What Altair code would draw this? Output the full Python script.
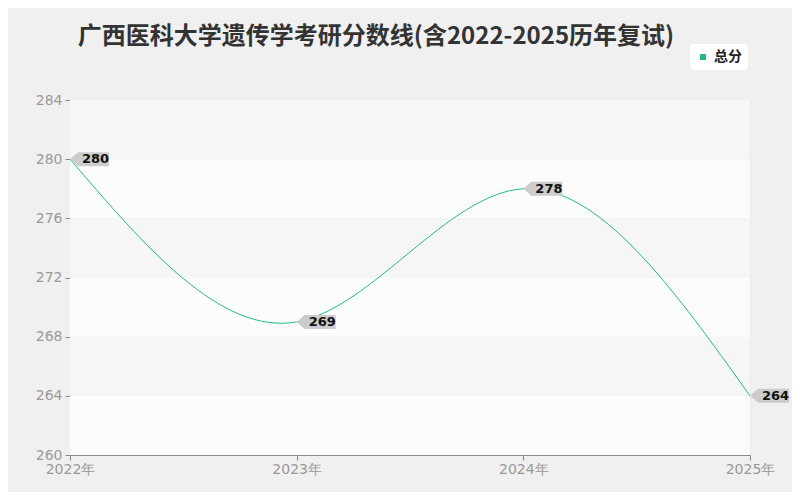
import altair as alt
import pandas as pd

# ---- data ----
years = [2022, 2023, 2024, 2025]
scores = [280, 269, 278, 264]
series_name = "总分"
y_ticks = [260, 264, 268, 272, 276, 280, 284]
x_ticks = [2022, 2023, 2024, 2025]
band_lo = [260, 264, 268, 272, 276, 280]
band_hi = [264, 268, 272, 276, 280, 284]
band_kind = ["light", "hatch", "light", "hatch", "light", "hatch"]
band_x0 = [2022] * 6
band_x1 = [2025] * 6

title_text = "广西医科大学遗传学考研分数线(含2022-2025历年复试)"

df = pd.DataFrame({"year": years, "score": scores, "series": [series_name] * 4})
bands = pd.DataFrame({"lo": band_lo, "hi": band_hi, "kind": band_kind,
                      "x0": band_x0, "x1": band_x1})
title_df = pd.DataFrame({"t": [title_text]})

GREEN = "#22bb88"
W, H = 680, 355

xscale = alt.Scale(domain=[2022, 2025], nice=False, zero=False)
yscale = alt.Scale(domain=[260, 284], nice=False, zero=False)

x_axis = alt.Axis(values=x_ticks, labelExpr="datum.value + '年'", title=None,
                  grid=True, gridDash=[4, 4], gridColor="#e4e4e4",
                  domainColor="#888888", tickColor="#888888", tickSize=5,
                  labelColor="#999999", labelFontSize=14, labelPadding=2,
                  labelFont="DejaVu Sans", labelFlush=False)
y_axis = alt.Axis(values=y_ticks, title=None, grid=True, gridDash=[4, 4],
                  gridColor="#e4e4e4", domainColor="#888888",
                  tickColor="#888888", tickSize=5, labelColor="#999999",
                  labelFontSize=14, labelPadding=3, labelFont="DejaVu Sans")

band_layer = alt.Chart(bands).mark_rect(strokeWidth=0).encode(
    x=alt.X("x0:Q", scale=xscale, axis=x_axis),
    x2="x1:Q",
    y=alt.Y("lo:Q", scale=yscale, axis=y_axis),
    y2="hi:Q",
    fill=alt.Fill("kind:N", scale=alt.Scale(domain=["light", "hatch"],
                                             range=["#fcfcfc", "#f6f6f6"]),
                  legend=None),
)

line_layer = alt.Chart(df).mark_line(interpolate="natural", strokeWidth=1).encode(
    x=alt.X("year:Q", scale=xscale, axis=x_axis),
    y=alt.Y("score:Q", scale=yscale, axis=y_axis),
    color=alt.Color("series:N", scale=alt.Scale(domain=[series_name], range=[GREEN]),
                    legend=alt.Legend(title=None, orient="none", legendX=620,
                                      legendY=-56, fillColor="white",
                                      cornerRadius=4, padding=6,
                                      symbolType="square", symbolSize=36,
                                      symbolFillColor=GREEN, symbolStrokeColor=GREEN,
                                      symbolStrokeWidth=0,
                                      labelFont="Noto Sans CJK SC",
                                      labelFontSize=14, labelFontWeight="bold",
                                      labelColor="#222222")),
)

tag_path = "M0,0 L0.4,-0.35 L1.95,-0.35 L1.95,0.35 L0.4,0.35 Z"
tag_layer = alt.Chart(df).mark_point(shape=tag_path, filled=True, size=1600,
                                     color="#cccccc", opacity=1, strokeWidth=0).encode(
    x=alt.X("year:Q", scale=xscale),
    y=alt.Y("score:Q", scale=yscale),
)

text_layer = alt.Chart(df).mark_text(align="left", baseline="middle", dx=12, dy=0,
                                     font="DejaVu Sans", fontSize=13,
                                     fontWeight="bold", color="#111111").encode(
    x=alt.X("year:Q", scale=xscale),
    y=alt.Y("score:Q", scale=yscale),
    text=alt.Text("score:Q"),
)

title_layer = alt.Chart(title_df).mark_text(align="center", baseline="middle",
                                            font="Noto Sans CJK SC", fontSize=24,
                                            fontWeight="bold", color="#333333").encode(
    x=alt.value(306), y=alt.value(-63), text="t:N",
)

chart = alt.layer(band_layer, line_layer, tag_layer, text_layer, title_layer).properties(
    width=W, height=H,
    autosize=alt.AutoSizeParams(type="none"),
    padding={"left": 62, "top": 92, "right": 42, "bottom": 37},
    background="#f0f0f0",
).configure_view(stroke=None)

chart.save("out.html", embed_options={"renderer": "svg", "actions": False})
